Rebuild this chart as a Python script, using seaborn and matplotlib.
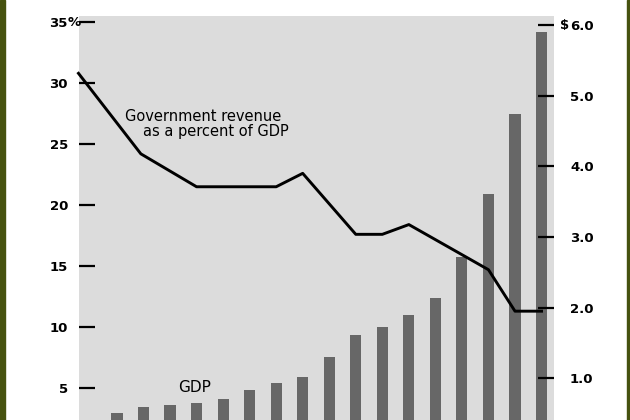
import matplotlib
matplotlib.use("Agg")
import matplotlib.pyplot as plt
from matplotlib.patches import Rectangle
import seaborn as sns

# ── data ──────────────────────────────────────────────────────
bar_pos = list(range(18))
gdp_trillions = [0.36, 0.51, 0.59, 0.62, 0.65, 0.71, 0.84, 0.93, 1.02,
                 1.30, 1.61, 1.73, 1.90, 2.14, 2.72, 3.61, 4.74, 5.90]

rev_pos = [-0.45, 1.9, 4, 5, 6, 7, 8, 10, 11, 12, 15, 16, 17]
rev_pct = [30.8, 24.2, 21.5, 21.5, 21.5, 21.5, 22.6, 17.6, 17.6, 18.4,
           14.7, 11.3, 11.3]

pct_ticks = [5, 10, 15, 20, 25, 30, 35]
pct_labels = ["5", "10", "15", "20", "25", "30", "35"]
usd_ticks = [1, 2, 3, 4, 5, 6]
usd_labels = ["1.0", "2.0", "3.0", "4.0", "5.0", "6.0"]

# ── figure ────────────────────────────────────────────────────
W, H = 630, 420
fig = plt.figure(figsize=(W / 100, H / 100), dpi=100)
fig.patch.set_facecolor("white")

# plot area runs off the bottom of the image like the original
ax = fig.add_axes([79 / W, (H - 449) / H, (554 - 79) / W, (449 - 16) / H])
ax.set_facecolor("#dcdcdc")
ax2 = ax.twinx()

sns.barplot(x=bar_pos, y=gdp_trillions, color="#676767", saturation=1,
            width=0.42, errorbar=None, ax=ax)
sns.lineplot(x=rev_pos, y=rev_pct, color="black", linewidth=2.1,
             clip_on=False, ax=ax2)

ax.set_xlim(-0.43, 17.47)
ax.set_ylim(0, 6.13)
ax2.set_ylim(0, 35.5)

# GDP axis on the right, revenue axis on the left
ax.yaxis.tick_right()
ax2.yaxis.tick_left()
ax.set_yticks(usd_ticks, usd_labels, fontweight="bold")
ax2.set_yticks(pct_ticks, pct_labels, fontweight="bold")
ax.tick_params(axis="y", direction="in", length=11.5, width=1.6, pad=11.5,
               labelsize=9.5, left=False, labelleft=False,
               right=True, labelright=True)
ax2.tick_params(axis="y", direction="in", length=11.5, width=1.6, pad=8,
                labelsize=9.5, left=True, labelleft=True,
                right=False, labelright=False)

for a in (ax, ax2):
    a.set_xticks([])
    a.set_xlabel("")
    a.set_ylabel("")
    for s in a.spines.values():
        s.set_visible(False)

ax2.annotate("%", xy=(0, 35), xycoords=ax2.get_yaxis_transform(),
             xytext=(-8, 0), textcoords="offset points",
             ha="left", va="center", fontsize=9.5, fontweight="bold")
ax.annotate("$", xy=(1, 6), xycoords=ax.get_yaxis_transform(),
            xytext=(4.5, 0), textcoords="offset points",
            ha="left", va="center", fontsize=9.5, fontweight="bold")

ax2.text(1.30, 27.3, "Government revenue", ha="left", va="center",
         fontsize=10.5)
ax2.text(1.98, 26.0, "as a percent of GDP", ha="left", va="center",
         fontsize=10.5)
ax2.text(3.94, 5.08, "GDP", ha="center", va="center", fontsize=11)

# olive frame strips at the sides
fig.patches.append(Rectangle((0, 0), 5 / W, 1, transform=fig.transFigure,
                             color="#46520f"))
fig.patches.append(Rectangle((627 / W, 0), 3 / W, 1, transform=fig.transFigure,
                             color="#46520f"))

fig.savefig("out.png", dpi=100)
